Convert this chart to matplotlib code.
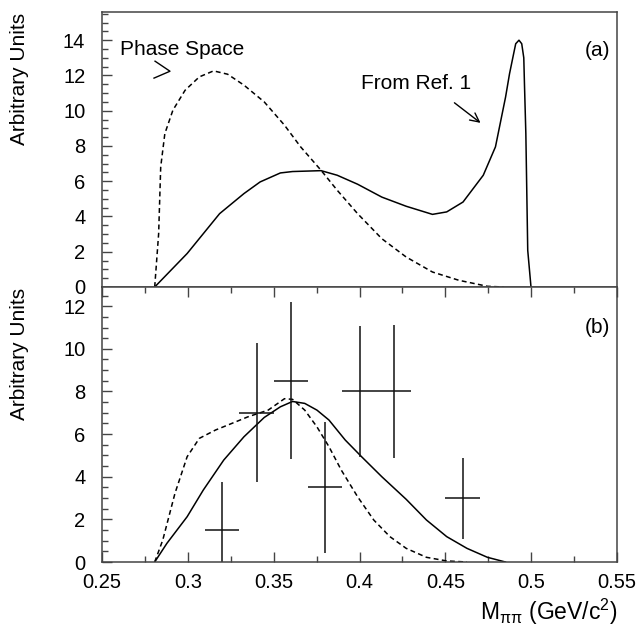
import matplotlib
matplotlib.use("Agg")
import matplotlib.pyplot as plt
from matplotlib.ticker import MultipleLocator, FormatStrFormatter

plt.rcParams['font.family'] = ['Liberation Sans', 'DejaVu Sans']
plt.rcParams['mathtext.fontset'] = 'custom'
plt.rcParams['mathtext.rm'] = 'Liberation Sans'
plt.rcParams['mathtext.it'] = 'Liberation Sans:italic'

# ---- panel (a) ----
ref_x = [0.2807, 0.2996, 0.3185, 0.3327, 0.3421, 0.3539, 0.361, 0.3776, 0.387,
         0.3989, 0.413, 0.4272, 0.4425, 0.4508, 0.4603, 0.4721, 0.4792, 0.4851,
         0.4874, 0.4898, 0.4910, 0.4929, 0.4945, 0.4957, 0.4961, 0.4969, 0.498, 0.4999]
ref_y = [0, 1.9, 4.16, 5.3, 5.96, 6.47, 6.55, 6.6, 6.34,
         5.83, 5.1, 4.58, 4.12, 4.26, 4.82, 6.34, 7.95, 10.78,
         12.1, 13.24, 13.8, 14.0, 13.8, 13.0, 11.5, 8.7, 2.08, 0]

ps_x = [0.2807, 0.283, 0.2842, 0.2866, 0.2913, 0.2984, 0.3067, 0.315, 0.3232,
        0.3327, 0.3445, 0.3563, 0.3657, 0.3776, 0.387, 0.3989, 0.413, 0.4272,
        0.4425, 0.4579, 0.4745, 0.4839]
ps_y = [0, 3.03, 6.81, 8.70, 10.03, 11.16, 11.92, 12.26, 12.07,
        11.45, 10.5, 9.18, 7.95, 6.62, 5.49, 4.16, 2.74, 1.70,
        0.85, 0.38, 0.04, 0]

# ---- panel (b) ----
fit_x = [0.2807, 0.2878, 0.2996, 0.309, 0.3209, 0.3327, 0.3445, 0.3539, 0.361,
         0.3681, 0.3752, 0.3822, 0.3917, 0.4012, 0.413, 0.4272, 0.439, 0.4508,
         0.4626, 0.4745, 0.485]
fit_y = [0, 0.875, 2.125, 3.375, 4.78, 5.875, 6.78, 7.28, 7.53,
         7.44, 7.125, 6.66, 5.72, 4.94, 4.0, 2.94, 1.97, 1.19,
         0.64, 0.22, 0]

psb_x = [0.2807, 0.2854, 0.2925, 0.2996, 0.3067, 0.3161, 0.3256, 0.335, 0.3468,
         0.3563, 0.361, 0.3681, 0.3752, 0.3822, 0.3894, 0.3989, 0.4083, 0.4177,
         0.4272, 0.439, 0.4508, 0.4626]
psb_y = [0, 1.03, 3.22, 4.94, 5.8, 6.19, 6.5, 6.81, 7.125,
         7.66, 7.63, 7.125, 6.34, 5.41, 4.31, 3.06, 1.97, 1.19,
         0.64, 0.22, 0.05, 0]

data_x = [0.32, 0.34, 0.36, 0.38, 0.40, 0.42, 0.46]
data_y = [1.5, 7.0, 8.5, 3.5, 8.0, 8.0, 3.0]
data_xerr = [0.01, 0.01, 0.01, 0.01, 0.01, 0.01, 0.01]
data_yerr = [2.25, 3.27, 3.68, 3.08, 3.07, 3.1, 1.9]

x_ticks = [0.25, 0.3, 0.35, 0.4, 0.45, 0.5, 0.55]

W, H = 637, 626
fig = plt.figure(figsize=(W / 100, H / 100), dpi=100)
L, R = 102 / W, 617 / W
yb_bot, yb_top, yt_top = 1 - 562 / H, 1 - 287 / H, 1 - 12 / H
ax1 = fig.add_axes([L, yb_top, R - L, yt_top - yb_top])
ax2 = fig.add_axes([L, yb_bot, R - L, yb_top - yb_bot], sharex=ax1)

lw = 1.1
dash = (0, (3.2, 2.2))
ax1.plot(ref_x, ref_y, color='black', lw=lw)
ax1.plot(ps_x, ps_y, color='black', lw=lw, linestyle=dash)
ax2.plot(fit_x, fit_y, color='black', lw=lw)
ax2.plot(psb_x, psb_y, color='black', lw=lw, linestyle=dash)
ax2.errorbar(data_x, data_y, xerr=data_xerr, yerr=data_yerr, fmt='none',
             ecolor='#111111', elinewidth=1.1, capsize=0)

ax1.set_xlim(0.25, 0.55)
ax1.set_ylim(0, 15.6)
ax2.set_ylim(0, 12.9)

fs = 14.5
fs_txt = 15
for ax in (ax1, ax2):
    for s in ax.spines.values():
        s.set_color('#444444')
        s.set_linewidth(1.1)
    ax.yaxis.set_major_locator(MultipleLocator(2))
    ax.yaxis.set_minor_locator(MultipleLocator(0.5))
    ax.tick_params(axis='y', which='major', direction='in', length=7, width=1,
                   color='#444444', labelsize=fs, pad=12)
    ax.tick_params(axis='y', which='minor', direction='in', length=4, width=1,
                   color='#444444')

ax2.set_xticks(x_ticks)
ax2.xaxis.set_minor_locator(MultipleLocator(0.025))
ax2.xaxis.set_major_formatter(FormatStrFormatter('%g'))
ax2.tick_params(axis='x', which='major', direction='in', length=7, width=1,
                color='#444444', labelsize=fs, pad=8, top=True)
ax2.tick_params(axis='x', which='minor', direction='in', length=4, width=1,
                color='#444444', top=True)
ax1.tick_params(axis='x', which='both', bottom=False, top=False, labelbottom=False)

# annotations
ax1.text(0.2605, 13.5, 'Phase Space', fontsize=fs_txt, ha='left', va='center')
ax1.plot([0.2809, 0.2896, 0.2803], [12.81, 12.24, 11.85], color='black', lw=1.0)
ax1.text(0.4009, 11.56, 'From Ref. 1', fontsize=fs_txt, ha='left', va='center')
ax1.annotate('', xy=(0.4705, 9.31), xytext=(0.4553, 10.45),
             arrowprops=dict(arrowstyle='->', lw=1.0, color='black',
                             mutation_scale=16, shrinkA=0, shrinkB=0))
ax1.text(0.986, 13.4, '(a)', fontsize=fs_txt, ha='right', va='center',
         transform=ax1.get_yaxis_transform())
ax2.text(0.986, 11.0, '(b)', fontsize=fs_txt, ha='right', va='center',
         transform=ax2.get_yaxis_transform())

fig.text(20 / W, 1 - 13 / H, 'Arbitrary Units', rotation=90, ha='center',
         va='top', fontsize=fs_txt)
fig.text(20 / W, 1 - 288 / H, 'Arbitrary Units', rotation=90, ha='center',
         va='top', fontsize=fs_txt)
fig.text(R, 1 - 620 / H, r'M$_{\mathrm{ππ}}$ (GeV/c$^{2}$)', ha='right',
         va='baseline', fontsize=16.5)

fig.savefig('out.png', dpi=100)
